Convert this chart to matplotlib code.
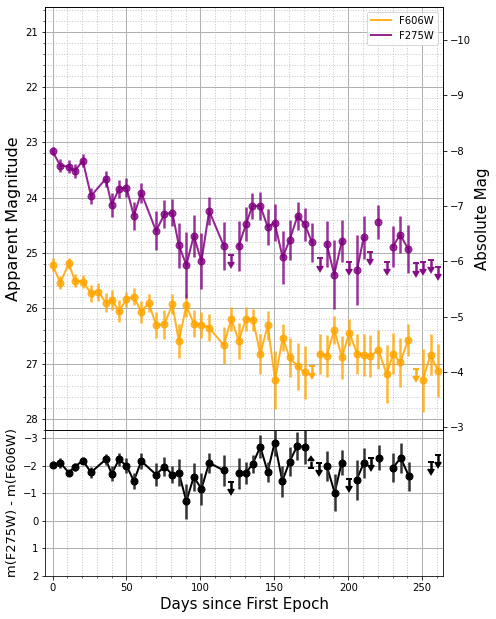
import numpy as np
import matplotlib
matplotlib.use('Agg')
import matplotlib.pyplot as plt
from matplotlib.ticker import MultipleLocator

nan = np.nan

# F606W (orange) detections, nan where only a limit exists
d606 = [0, 5.2, 11, 15, 20.5, 26, 31, 36, 40, 45, 50, 55, 60, 65, 70, 75.7, 81, 85.4, 90.5, 95.5,
        100.7, 105.9, 115.8, 120.9, 125.9, 130.9, 135.6, 140.5, 145.5, 150.5, 155.6, 160.3, 165.7,
        170.5, 175.5, 180.6, 185.4, 190.5, 195.7, 200.7, 205.9, 210.4, 215, 220.3, 225.9, 230.4,
        235.1, 240.5, 245.5, 250.4, 255.6, 260.6]
m606 = [25.21, 25.54, 25.19, 25.50, 25.52, 25.73, 25.70, 25.90, 25.85, 26.05, 25.84, 25.79, 26.07,
        25.90, 26.30, 26.29, 25.93, 26.59, 25.95, 26.28, 26.30, 26.35, 26.67, 26.19, 26.59, 26.19,
        26.21, 26.83, 26.31, 27.30, 26.53, 26.89, 27.05, 27.16, nan, 26.82, 26.86, 26.39, 26.89,
        26.44, 26.82, 26.85, 26.87, 26.75, 27.19, 26.82, 26.98, 26.57, nan, 27.30, 26.84, 27.13]
e606 = [0.12, 0.12, 0.10, 0.12, 0.12, 0.15, 0.16, 0.17, 0.18, 0.20, 0.14, 0.15, 0.20, 0.16, 0.24,
        0.26, 0.18, 0.31, 0.20, 0.24, 0.24, 0.24, 0.34, 0.22, 0.32, 0.22, 0.20, 0.36, 0.26, 0.53,
        0.25, 0.36, 0.43, 0.48, nan, 0.36, 0.38, 0.25, 0.39, 0.24, 0.36, 0.38, 0.38, 0.35, 0.52,
        0.37, 0.45, 0.29, nan, 0.57, 0.37, 0.48]
lim606_day = [175.5, 245.5]
lim606 = [27.04, 27.10]

# F275W (purple)
d275 = [0, 5.2, 11, 15, 20.5, 26, 36, 40, 45, 50, 55, 60, 70, 75.7, 81, 85.4, 90.5, 95.5, 100.7,
        105.9, 115.8, 120.7, 125.9, 130.9, 135.1, 140.5, 145.5, 150.2, 155.6, 160.3, 165.7, 170.5,
        175.5, 180.6, 185.4, 190.5, 195.7, 200.7, 205.9, 210.4, 215, 220.3, 225.9, 230, 235.1, 240.5]
m275 = [23.16, 23.42, 23.44, 23.52, 23.33, 23.97, 23.66, 24.13, 23.84, 23.82, 24.33, 23.91, 24.60,
        24.30, 24.27, 24.86, 25.22, 24.69, 25.15, 24.24, 24.87, nan, 24.87, 24.48, 24.15, 24.15,
        24.53, 24.45, 25.08, 24.77, 24.33, 24.48, 24.81, nan, 24.84, 25.39, 24.78, nan, 25.31,
        24.72, nan, 24.44, nan, 24.89, 24.67, 24.93]
e275 = [0.07, 0.12, 0.12, 0.12, 0.11, 0.15, 0.15, 0.22, 0.16, 0.17, 0.26, 0.18, 0.35, 0.25, 0.25,
        0.41, 0.60, 0.38, 0.51, 0.26, 0.43, nan, 0.45, 0.31, 0.23, 0.26, 0.33, 0.34, 0.48, 0.36,
        0.26, 0.30, 0.35, nan, 0.41, 0.63, 0.38, nan, 0.63, 0.39, nan, 0.30, nan, 0.37, 0.34, 0.44]
lim275_day = [120.7, 180.6, 200.7, 215, 225.9, 245.5, 250.4, 255.6, 260.6]
lim275 = [25.04, 25.10, 25.16, 24.98, 25.16, 25.19, 25.16, 25.12, 25.25]

# colour m(F275W) - m(F606W)
dcol = [0, 5.2, 11, 15, 20.5, 26, 36, 40, 45, 50, 55, 60, 70, 75.7, 81, 85.4, 90.5, 95.5, 100.7,
        105.9, 115.8, 120.9, 125.9, 130.9, 135.4, 140.5, 145.5, 150.2, 155.4, 160.3, 165.5, 170.5,
        175, 180.6, 185.4, 190.8, 195.5, 200.7, 205.6, 210.6, 215.3, 220.5, 225.9, 230.4, 235.4, 241]
col = [-2.04, -2.11, -1.75, -1.96, -2.19, -1.76, -2.23, -1.71, -2.23, -2.00, -1.45, -2.17, -1.68,
       -1.97, -1.68, -1.75, -0.71, -1.60, -1.16, -2.11, -1.83, nan, -1.72, -1.75, -2.07, -2.69,
       -1.78, -2.84, -1.44, -2.15, -2.72, -2.68, nan, nan, -2.00, -1.02, -2.11, nan, -1.49, -2.11,
       nan, -2.29, nan, -1.93, -2.29, -1.62]
ecol = [0.12, 0.18, 0.10, 0.15, 0.12, 0.21, 0.20, 0.28, 0.24, 0.27, 0.30, 0.28, 0.43, 0.35, 0.31,
        0.50, 0.64, 0.50, 0.57, 0.36, 0.56, nan, 0.55, 0.40, 0.33, 0.42, 0.37, 0.50, 0.56, 0.53,
        0.50, 0.60, nan, nan, 0.55, 0.67, 0.45, nan, 0.73, 0.55, nan, 0.45, nan, 0.52, 0.55, 0.53]
colred_day = [120.9, 180.4, 200.7, 215.3, 255.6, 260.6]
colred = [-1.42, -2.11, -1.53, -2.29, -2.13, -2.38]
colblue_day = [175]
colblue = [-1.91]

DM = 31.15

dpi = 72
fig = plt.figure(figsize=(496 / dpi, 619 / dpi), dpi=dpi)
gs = fig.add_gridspec(2, 1, height_ratios=[423, 146], hspace=0,
                      left=0.091, right=0.893, top=0.989, bottom=0.0695)
ax = fig.add_subplot(gs[0])
ax2 = fig.add_subplot(gs[1], sharex=ax)

# limits first so the caret direction follows the inverted axes
ax.set_ylim(28.2, 20.55)
ax.set_xlim(-5, 264)
ax2.set_ylim(2, -3.3)

for d, m, e, ld, lm, c, lab in [(d606, m606, e606, lim606_day, lim606, 'orange', 'F606W'),
                                (d275, m275, e275, lim275_day, lim275, 'purple', 'F275W')]:
    ax.plot(d, m, '-', color=c, lw=2, alpha=0.85, label=lab, zorder=3)
    ax.errorbar(d, m, yerr=e, fmt='o', color=c, ms=7, elinewidth=2.5, ecolor=c,
                alpha=0.8, zorder=3)
    ax.errorbar(ld, lm, yerr=0.13, lolims=True, fmt='none', color=c, ecolor=c,
                elinewidth=2.5, capsize=3, capthick=2, alpha=0.9, zorder=3)

ax.set_ylabel('Apparent Magnitude', fontsize=16)
ax.yaxis.set_major_locator(MultipleLocator(1))
ax.yaxis.set_minor_locator(MultipleLocator(0.2))
ax.xaxis.set_minor_locator(MultipleLocator(10))
ax.grid(which='major', color='#b0b0b0', lw=1)
ax.grid(which='minor', color='#c8c8c8', ls=':', lw=1)
ax.tick_params(axis='x', which='both', bottom=False, labelbottom=False)
ax.legend(loc='upper right', fontsize=10)

axr = ax.twinx()
axr.set_ylim(28.2 - DM, 20.55 - DM)
axr.yaxis.set_major_locator(MultipleLocator(1))
axr.set_ylabel('Absolute Mag', fontsize=15)

ax2.plot(dcol, col, '-', color='black', lw=2, zorder=3)
ax2.errorbar(dcol, col, yerr=ecol, fmt='o', color='black', ms=7, elinewidth=2.5,
             ecolor='#333333', zorder=3)
ax2.errorbar(colred_day, colred, yerr=0.25, lolims=True, fmt='none', color='black',
             ecolor='black', elinewidth=2.5, capsize=3, capthick=2, zorder=3)
ax2.errorbar(colblue_day, colblue, yerr=0.25, uplims=True, fmt='none', color='black',
             ecolor='black', elinewidth=2.5, capsize=3, capthick=2, zorder=3)
ax2.yaxis.set_major_locator(MultipleLocator(1))
ax2.xaxis.set_major_locator(MultipleLocator(50))
ax2.xaxis.set_minor_locator(MultipleLocator(10))
ax2.grid(which='major', color='#b0b0b0', lw=1)
ax2.grid(which='minor', axis='x', color='#c8c8c8', ls=':', lw=1)
ax2.set_xlabel('Days since First Epoch', fontsize=15)
ax2.set_ylabel('m(F275W) - m(F606W)', fontsize=13)

fig.savefig('out.png', dpi=dpi)
